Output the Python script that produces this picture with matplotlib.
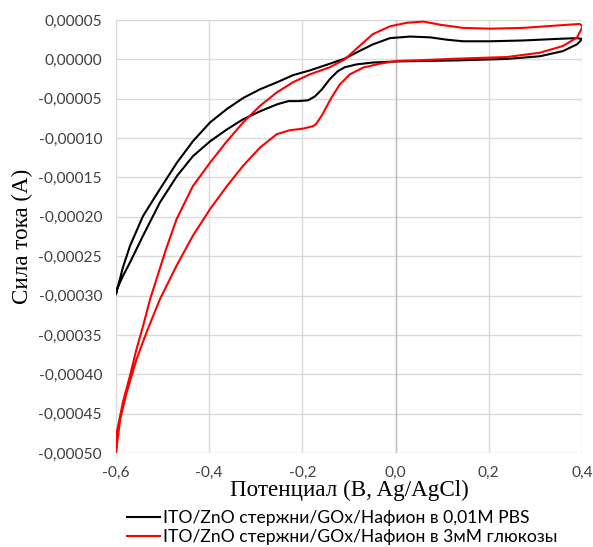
import numpy as np
import matplotlib
matplotlib.use("Agg")
import matplotlib.pyplot as plt
from matplotlib.ticker import FuncFormatter

# current values are in units of 1e-5 A
pbs_x = [-0.600, -0.585, -0.570, -0.542, -0.506, -0.469, -0.435, -0.398, -0.362, -0.327,
         -0.291, -0.254, -0.220, -0.184, -0.141, -0.109, -0.083, -0.049, -0.012, 0.031,
         0.074, 0.110, 0.145, 0.203, 0.273, 0.346, 0.389, 0.400,
         0.396, 0.389, 0.359, 0.310, 0.239, 0.132, 0.009, -0.049, -0.083, -0.109,
         -0.124, -0.141, -0.158, -0.173, -0.188, -0.209, -0.230, -0.254, -0.291, -0.327,
         -0.362, -0.398, -0.435, -0.469, -0.506, -0.542, -0.570, -0.585, -0.598, -0.600]
pbs_y = [-29.8, -26.4, -23.7, -19.9, -16.5, -13.1, -10.4, -8.0, -6.3, -4.9,
         -3.8, -2.9, -2.0, -1.4, -0.55, 0.1, 0.9, 1.9, 2.7, 2.9,
         2.8, 2.5, 2.3, 2.3, 2.4, 2.6, 2.7, 2.6,
         2.3, 1.9, 1.05, 0.4, 0.06, -0.13, -0.25, -0.4, -0.63, -1.0,
         -1.5, -2.5, -3.8, -4.7, -5.2, -5.3, -5.3, -5.7, -6.6, -7.6,
         -8.9, -10.4, -12.3, -14.8, -18.2, -22.4, -25.8, -27.5, -29.2, -29.8]

glu_x = [-0.600, -0.598, -0.585, -0.570, -0.556, -0.542, -0.527, -0.513, -0.492, -0.470,
         -0.435, -0.398, -0.362, -0.327, -0.291, -0.255, -0.220, -0.184, -0.141, -0.109,
         -0.085, -0.049, -0.012, 0.024, 0.060, 0.096, 0.145, 0.203, 0.273, 0.346,
         0.395, 0.401,
         0.400, 0.389, 0.359, 0.310, 0.239, 0.132, 0.059, 0.003, -0.034, -0.070,
         -0.098, -0.120, -0.138, -0.157, -0.171, -0.178, -0.199, -0.227, -0.255, -0.291,
         -0.327, -0.362, -0.398, -0.435, -0.470, -0.506, -0.534, -0.556, -0.577, -0.591,
         -0.600]
glu_y = [-49.9, -47.3, -43.5, -40.2, -36.8, -33.9, -30.5, -27.9, -24.0, -20.3,
         -16.1, -13.1, -10.4, -8.0, -5.9, -4.2, -2.9, -1.9, -1.0, 0.0,
         1.3, 3.2, 4.2, 4.65, 4.8, 4.4, 4.0, 3.9, 4.0, 4.3,
         4.5, 4.2,
         4.0, 2.75, 1.7, 0.85, 0.3, 0.09, -0.09, -0.2, -0.55, -1.05,
         -1.9, -3.2, -4.9, -7.0, -8.25, -8.5, -8.8, -9.0, -9.5, -11.2,
         -13.5, -16.1, -19.0, -22.4, -26.2, -30.5, -34.6, -38.1, -42.3, -45.7,
         -49.9]

labels = ["ITO/ZnO стержни/GOx/Нафион в 0,01M PBS",
          "ITO/ZnO стержни/GOx/Нафион в 3мМ глюкозы"]
x_ticks = [-0.6, -0.4, -0.2, 0.0, 0.2, 0.4]
y_ticks = np.arange(-0.0005, 0.00005 + 1e-9, 0.00005)

plt.rcParams['font.family'] = ['Lato', 'DejaVu Sans']

fig = plt.figure(figsize=(5.93, 5.47), dpi=100)
ax = fig.add_axes([0.1956, 0.1718, 0.7858, 0.7916])

ax.plot(pbs_x, np.array(pbs_y) * 1e-5, color="black", lw=1.5, label=labels[0])
ax.plot(glu_x, np.array(glu_y) * 1e-5, color="#ff0000", lw=1.5, label=labels[1])

ax.set_xlim(-0.6, 0.4)
ax.set_ylim(-0.0005, 0.00005)
ax.set_xticks(x_ticks)
ax.set_yticks(y_ticks)
ax.xaxis.set_major_formatter(FuncFormatter(lambda v, p: f"{v:.1f}".replace(".", ",").replace("-0,0", "0,0")))
ax.yaxis.set_major_formatter(FuncFormatter(lambda v, p: f"{v:.5f}".replace(".", ",").replace("-0,00000", "0,00000")))
ax.tick_params(length=0, labelsize=11.2, labelcolor="#404040")
ax.tick_params(axis="y", pad=10)
ax.tick_params(axis="x", pad=9)
ax.grid(True, color="#d9d9d9", lw=1)
ax.axvline(0, color="#bfbfbf", lw=1, zorder=1)
ax.set_axisbelow(True)
for s in ax.spines.values():
    s.set_visible(False)

ax.set_xlabel("Потенциал (В, Ag/AgCl)", family="Liberation Serif", fontsize=16.6, labelpad=0)
ax.set_ylabel("Сила тока (А)", family="Liberation Serif", fontsize=16.6, labelpad=4)

fig.legend(loc="lower center", bbox_to_anchor=(0.577, 0.003), frameon=False, fontsize=12.6,
           handlelength=1.85, handletextpad=0.17, labelspacing=0.2,
           borderpad=0, borderaxespad=0)

fig.savefig("out.png", dpi=100)
